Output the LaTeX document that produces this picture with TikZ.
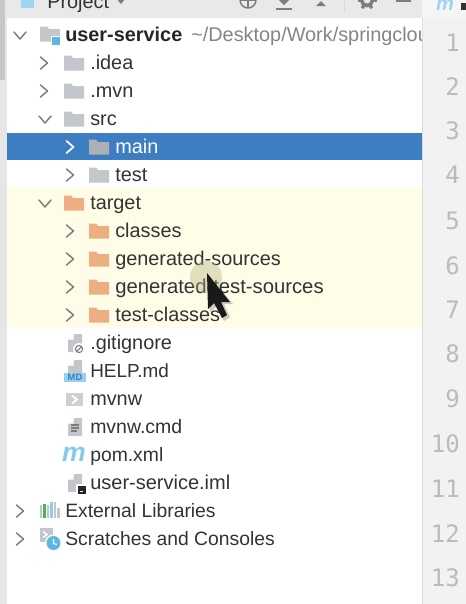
\documentclass[tikz,border=0pt]{standalone}
\usepackage{fontspec}
\setmainfont{Liberation Sans}
\setmonofont{DejaVu Sans Mono}
\definecolor{hdrgray}{HTML}{E9E9EB}
\definecolor{stripgray}{HTML}{E6E6E6}
\definecolor{iconsgray}{HTML}{C3C7CC}
\definecolor{orangefolder}{HTML}{EDAE82}
\definecolor{selblue}{HTML}{3D7DC1}
\definecolor{yellowrow}{HTML}{FFFDE8}
\definecolor{guttergray}{HTML}{F2F2F3}
\definecolor{numgray}{HTML}{BBBBBB}
\definecolor{textdark}{HTML}{333333}
\definecolor{pathgray}{HTML}{858585}
\definecolor{skyicon}{HTML}{5DB7E3}
\definecolor{chevgray}{HTML}{7D7D7D}
\tikzset{
  rowtext/.style={anchor=base west, inner sep=0pt, text=textdark, font=\fontsize{14.9}{18}\selectfont},
  linenum/.style={anchor=base east, inner sep=0pt, text=numgray, font=\ttfamily\fontsize{18}{20}\selectfont},
  chevron/.style={draw=chevgray, line width=1.1pt, line cap=round, line join=round},
  folder/.pic={
    \path[pic actions] (-10,7.5) -- (-10,-7.5) -- (-3,-7.5) -- (-1,-5) -- (10,-5) -- (10,7.5) -- cycle;
  },
  docicon/.pic={
    \fill[iconsgray] (-7,9) -- (-7,-4) -- (0,-9) -- (7,-9) -- (7,9) -- cycle;
    \fill[white] (-7.5,-3.5) -- (-1.5,-3.5) -- (-1.5,-9.5) -- cycle;
  }
}
\begin{document}
\begin{tikzpicture}[x=0.75pt,y=-0.75pt]
  \useasboundingbox (0,0) rectangle (466,604);
  \clip (0,0) rectangle (466,604);
  \fill[white] (0,0) rectangle (466,604);

  % left strip, header
  \fill[stripgray] (0,0) rectangle (7,604);
  \fill[black!22] (0,0) rectangle (5,80);
  \fill[hdrgray] (7,0) rectangle (422,18);
  \fill[skyicon!60] (21,-6) rectangle (34,8);
  \node[rowtext, text=textdark] (projecttitle) at (47,8) {Project};
  \fill[chevgray] (116,-2) -- (126,-2) -- (121,4) -- cycle;

  % header tools
  \draw[chevgray, line width=1.1pt] (248,0) circle (8);
  \draw[chevgray, line width=1.1pt] (248,-8) -- (248,8) (240,0) -- (256,0);
  \fill[chevgray] (279,0) -- (289,0) -- (284,5) -- cycle;
  \draw[chevgray, line width=1.3pt] (276,9) -- (292,9);
  \fill[chevgray] (316,6) -- (326,6) -- (321,1) -- cycle;
  \draw[chevgray, line width=1.3pt] (313,-1) -- (329,-1);
  \draw[black!15, line width=.6pt] (344,0) -- (344,13);
  \draw[chevgray, line width=2.6pt] (367,0) circle (5.5);
  \foreach \a in {0,60,...,300}{
    \draw[chevgray, line width=2.4pt] (367,0) ++(\a:6) -- ++(\a:3.5);
  }
  \draw[chevgray, line width=1.2pt] (396,1) -- (411,1);

  % row bands
  \fill[selblue] (7,133) rectangle (422,160);
  \fill[yellowrow] (7,188) rectangle (422,328);

  % folder rows: centre y / x of icon / colour / name / font size / text colour / text
  \foreach \y/\ix/\col/\nm/\fs/\tcol/\lbl in {
    63/74/iconsgray/idea/14.9/textdark/.idea,
    91/74/iconsgray/mvn/14.9/textdark/.mvn,
    119/74/iconsgray/src/14.9/textdark/src,
    147/99/iconsgray!88!black/main/14.9/white/main,
    175/99/iconsgray/testdir/14.9/textdark/test,
    203/74/orangefolder/target/14.9/textdark/target,
    231/99/orangefolder/classes/14.9/textdark/classes,
    259/99/orangefolder/gensrc/14.9/textdark/generated-sources,
    287/99/orangefolder/gentest/15.2/textdark/generated-test-sources,
    315/99/orangefolder/testclasses/14.9/textdark/test-classes}{
    \pic[fill=\col] at (\ix,\y) {folder};
    \pgfmathsetmacro{\tx}{\ix+16}
    \node[rowtext, text=\tcol, font=\fontsize{\fs}{18}\selectfont] (\nm) at (\tx,\y+6) {\lbl};
  }

  % collapsed chevrons
  \foreach \x/\y in {44/63,44/91,70/175,70/231,70/259,70/287,70/315,20/511,20/539}{
    \draw[chevron] (\x-3.5,\y-6) -- (\x+3.5,\y) -- (\x-3.5,\y+6);
  }
  \draw[chevron, draw=white, line width=1.3pt] (66.5,141) -- (73.5,147) -- (66.5,153);
  % expanded chevrons
  \foreach \x/\y in {20/35,45/119,45/203}{
    \draw[chevron] (\x-6,\y-3) -- (\x,\y+4) -- (\x+6,\y-3);
  }

  % project root
  \pic[fill=iconsgray] at (50,34) {folder};
  \fill[white] (51,36) rectangle (62,48);
  \fill[skyicon] (52,37) rectangle (60,45);
  \node[rowtext, font=\bfseries\fontsize{14.9}{18}\selectfont, text=black!85] (root) at (65,41) {user-service};
  \node[rowtext, text=pathgray] (rootpath) at (191,41) {\textasciitilde/Desktop/Work/springcloud};

  % plain file rows
  \foreach \y/\nm/\fs/\lbl in {
    343/gitignore/14.9/.gitignore,
    371/helpmd/14.2/HELP.md,
    399/mvnw/14.9/mvnw,
    427/mvnwcmd/14.6/mvnw.cmd,
    455/pom/14.5/pom.xml,
    483/iml/15/user-service.iml}{
    \node[rowtext, font=\fontsize{\fs}{18}\selectfont] (\nm) at (90,\y+6) {\lbl};
  }
  \node[rowtext, font=\fontsize{14.5}{18}\selectfont] (extlib) at (65,517) {External Libraries};
  \node[rowtext, font=\fontsize{14.5}{18}\selectfont] (scratches) at (65,545) {Scratches and Consoles};

  % file icons
  \pic at (75,343) {docicon};
  \fill[white] (79,349) circle (6);
  \draw[chevgray, line width=.8pt] (79,349) circle (3.6) (76.5,351.5) -- (81.5,346.5);
  \pic at (75,369) {docicon};
  \fill[skyicon!65] (64,373) rectangle (86,382);
  \node[inner sep=0pt, text=selblue, font=\bfseries\fontsize{7}{8}\selectfont] (mdtag) at (75,377.5) {MD};
  \fill[iconsgray!85] (66,393) rectangle (83,406);
  \draw[white, line width=1.4pt] (72,395.5) -- (77,399.5) -- (72,403.5);
  \pic at (75,427) {docicon};
  \draw[chevgray, line width=.8pt] (71,425) -- (79,425) (71,428) -- (79,428) (71,431) -- (77,431);
  \node[inner sep=0pt, text=skyicon!75, font=\bfseries\itshape\fontsize{20}{22}\selectfont] (pomicon) at (74,454) {m};
  \pic at (75,483) {docicon};
  \fill[white] (76,484) rectangle (87,495);
  \fill[black!85] (78,486) rectangle (86,494);
  \draw[white, line width=.5pt] (80,491.5) -- (83,491.5);

  % external libraries bars
  \foreach \x/\t/\col in {41/505/iconsgray,44.5/504/green!45!gray,48/505/iconsgray,51.5/502/skyicon!70,55/502/iconsgray,58.5/508/iconsgray}{
    \draw[\col, line width=1.6pt] (\x,518) -- (\x,\t);
  }

  % scratches
  \fill[iconsgray] (40,528) rectangle (53,542);
  \draw[white, line width=1pt] (43,531.5) -- (47,534.5) -- (43,537.5);
  \fill[white] (53.5,543) circle (8.5);
  \fill[skyicon] (53.5,543) circle (7);
  \draw[white, line width=.9pt] (53.5,539) -- (53.5,543.5) -- (57,544.5);

  % gutter with line numbers
  \fill[guttergray] (422,18) rectangle (466,604);
  \draw[black!14, line width=.6pt] (422,18) -- (422,604);
  \fill[white!96!black] (422,0) rectangle (466,18);
  \node[inner sep=0pt, text=skyicon!60, font=\bfseries\itshape\fontsize{15}{16}\selectfont] (tabicon) at (445,5) {m};
  \fill[black!80] (461,3) rectangle (466,10);
  \foreach \n/\y in {1/51,2/95,3/139,4/183,5/229,6/274,7/318,8/362,9/407,10/452,11/497,12/542,13/586}{
    \node[linenum] (line\n) at (460,\y) {\n};
  }

  % mouse cursor over the rows
  \fill[gray!70!yellow, opacity=.38] (206,277) circle (16);
  \fill[black, opacity=.2] (209,276) -- (210,312) -- (217,306) -- (224,321) -- (230,317) -- (224,304) -- (233,304) -- cycle;
  \fill[black!90] (207,273) -- (208,309) -- (214,303) -- (222,318) -- (227,315) -- (221,302) -- (230,302) -- cycle;
\end{tikzpicture}
\end{document}
